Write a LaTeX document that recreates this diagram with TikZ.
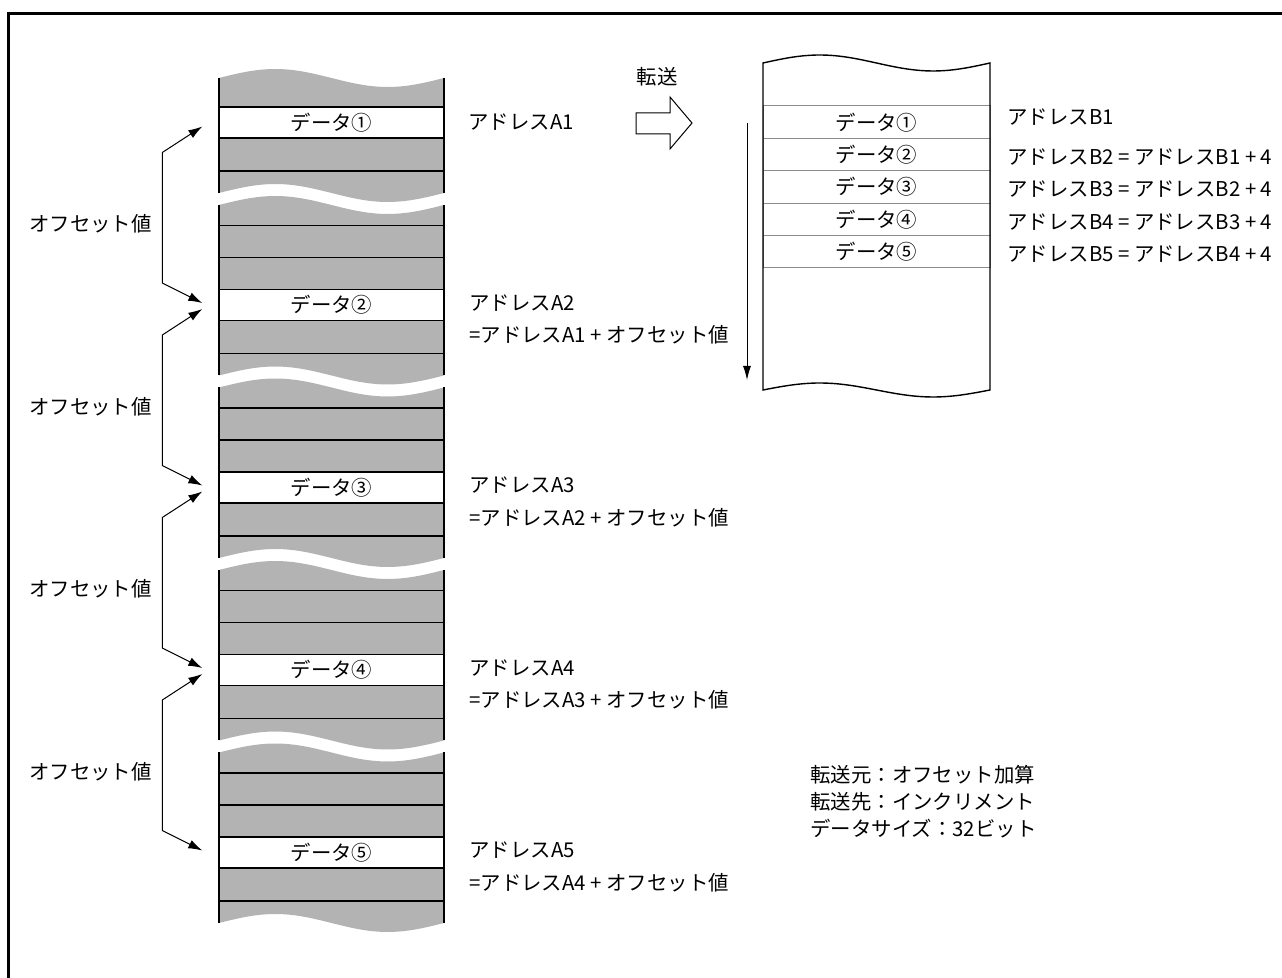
\documentclass[tikz,border=0pt]{standalone}
\usepackage{fontspec}
\setmainfont{Noto Sans CJK JP}
\usetikzlibrary{arrows.meta}
\definecolor{memgray}{RGB}{179,179,179}
\definecolor{rowgray}{RGB}{140,140,140}

\begin{document}
\begin{tikzpicture}[
  x=0.5pt, y=-0.5pt,
  every node/.style={font=\fontsize{10.2}{12}\selectfont, inner sep=1pt},
  cell/.style={draw, fill=white, line width=0.7pt, minimum width=112.5pt, minimum height=15.5pt, inner sep=0pt},
  bcell/.style={draw=rowgray, line width=0.5pt, minimum width=113.5pt, minimum height=16.2pt, inner sep=0pt},
  rowline/.style={line width=0.7pt},
  offset arrow/.style={{Latex[length=7pt,width=4.5pt]}-{Latex[length=7pt,width=4.5pt]}, line width=0.5pt},
  lbl/.style={anchor=west}
]
\useasboundingbox (0,0) rectangle (1282,978);
% frame
\draw[line width=1.5pt] (1282,14) -- (8,14) -- (8,978);

% source side, gray pieces between the breaks
\foreach \ta/\tb in {78/193, 205/375.5, 387.5/558, 570/740.5, 752.5/923}{
  \fill[memgray] plot[domain=0:225, samples=40] ({219+\x},{\ta-9*sin(1.6*\x)})
    -- plot[domain=225:0, samples=40] ({219+\x},{\tb-9*sin(1.6*\x)}) -- cycle;
  \draw[rowline] (219,\ta) -- (219,\tb) (444,\ta) -- (444,\tb);
}
\foreach \t in {107, 289.5, 472, 654.5, 837}
  \draw[rowline] (219,\t+64) -- (444,\t+64);
\foreach \t in {289.5, 472, 654.5, 837}
  \draw[rowline] (219,\t-64) -- (444,\t-64) (219,\t-32) -- (444,\t-32);

\foreach \k/\c in {1/①,2/②,3/③,4/④,5/⑤}
  \node[cell] (a\k) at (331.5,{122.5+182.5*(\k-1)}) {データ\c};

% offsets between the source data
\foreach \k [count=\n from 2] in {1,...,4}{
  \draw[offset arrow] ([shift={(-16,4)}]a\k.west) -- ++(-40,26)
    -- ([shift={(-56,-22)}]a\n.west) -- ([shift={(-16,-2)}]a\n.west);
  \node[lbl] (ofs\k) at (27,{224+182.5*(\k-1)}) {オフセット値};
}

\node[lbl] (addrA1) at (466,122.5) {アドレスA1};
\foreach \k [count=\p from 1] in {2,...,5}{
  \node[lbl] (addrA\k) at (467,{120.5+182.5*(\k-1)}) {アドレスA\k};
  \node[lbl] (sumA\k) at (467,{152.5+182.5*(\k-1)}) {=アドレスA\p{} + オフセット値};
}

% transfer
\draw[line width=0.5pt, fill=white] (636,113) -- (670,113) -- (670,97) -- (692,123)
  -- (670,149) -- (670,134) -- (636,134) -- cycle;
\node (xfer) at (657,77) {転送};

% destination side
\foreach \k/\c in {1/①,2/②,3/③,4/④,5/⑤}
  \node[bcell] (b\k) at (876.5,{122.2+32.4*(\k-1)}) {データ\c};
\draw[line width=0.7pt] plot[domain=0:227, samples=40] ({763+\x},{63-8*sin(1.586*\x)})
  -- plot[domain=227:0, samples=40] ({763+\x},{390-7*sin(1.586*\x)}) -- cycle;

\coordinate (inc top) at (747,123);
\coordinate (inc bot) at (747,380);
\draw[-{Latex[length=7pt,width=4pt]}, line width=0.5pt] (inc top) -- (inc bot);

\node[lbl] (addrB1) at (1005,117) {アドレスB1};
\foreach \k [count=\p from 1] in {2,...,5}
  \node[lbl] (addrB\k) at (1005,{157+32.4*(\k-2)}) {アドレスB\k{} = アドレスB\p{} + 4};

% transfer settings
\node[lbl] (set1) at (808,775) {転送元：オフセット加算};
\node[lbl] (set2) at (808,802) {転送先：インクリメント};
\node[lbl] (set3) at (808,829) {データサイズ：32ビット};
\end{tikzpicture}
\end{document}
